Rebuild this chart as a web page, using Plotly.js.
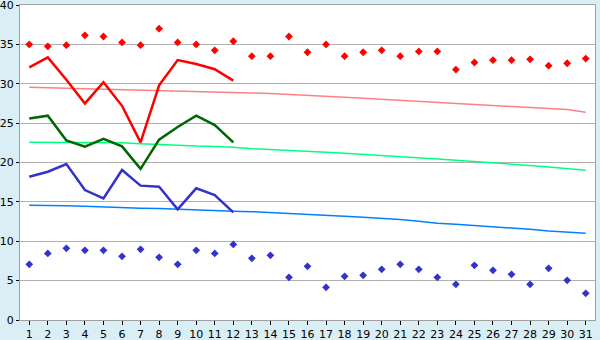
<!DOCTYPE html>
<html>
<head>
<meta charset="utf-8">
<script src="https://cdn.plot.ly/plotly-3.0.1.min.js"></script>
<style>html,body{margin:0;padding:0;background:#DAEFF5;}#chart{width:600px;height:340px;}</style>
</head>
<body>
<div id="chart"></div>
<script>
const days = Array.from({length: 31}, (_, i) => i + 1);
const tickLabels = days.map(String);
const yTicks = [0, 5, 10, 15, 20, 25, 30, 35, 40];

const maxPoints = [35.0, 34.75, 34.9, 36.15, 36.0, 35.25, 34.9, 37.0, 35.25, 35.0,
  34.25, 35.4, 33.5, 33.5, 36.0, 34.0, 35.0, 33.5, 34.0, 34.25,
  33.5, 34.1, 34.1, 31.8, 32.7, 33.0, 33.0, 33.1, 32.3, 32.6, 33.2];
const minPoints = [7.07, 8.46, 9.1, 8.85, 8.85, 8.08, 8.97, 7.96, 7.07, 8.85,
  8.46, 9.6, 7.83, 8.21, 5.42, 6.82, 4.15, 5.55, 5.67, 6.44,
  7.07, 6.44, 5.42, 4.53, 6.94, 6.31, 5.8, 4.53, 6.56, 5.04, 3.39];

const redLine = [32.08, 33.35, 30.5, 27.5, 30.2, 27.2, 22.55, 29.8, 33.0, 32.5, 31.85, 30.4];
const greenLine = [25.6, 25.95, 22.8, 22.0, 23.0, 22.05, 19.2, 22.9, 24.5, 25.95, 24.75, 22.55];
const blueLine = [18.2, 18.83, 19.8, 16.5, 15.45, 19.05, 17.06, 16.93, 14.05, 16.72, 15.87, 13.67];

const redTrend = [29.55, 29.45, 29.42, 29.35, 29.3, 29.25, 29.2, 29.17, 29.12, 29.07,
  28.98, 28.88, 28.83, 28.76, 28.66, 28.53, 28.4, 28.28, 28.15, 28.02,
  27.92, 27.81, 27.68, 27.56, 27.43, 27.3, 27.17, 27.02, 26.9, 26.72, 26.37];
const greenTrend = [22.56, 22.56, 22.56, 22.56, 22.54, 22.5, 22.38, 22.26, 22.18, 22.08,
  22.04, 21.95, 21.75, 21.66, 21.55, 21.42, 21.3, 21.17, 21.04, 20.91,
  20.79, 20.64, 20.45, 20.28, 20.13, 19.93, 19.77, 19.62, 19.42, 19.24, 19.01];
const blueTrend = [14.56, 14.56, 14.52, 14.44, 14.34, 14.28, 14.2, 14.16, 14.06, 13.96,
  13.9, 13.82, 13.76, 13.66, 13.55, 13.42, 13.3, 13.17, 13.04, 12.91,
  12.77, 12.55, 12.3, 12.15, 12.01, 11.82, 11.72, 11.52, 11.3, 11.14, 11.01];

const lineDays = days.slice(0, redLine.length);

const traces = [
  {x: days, y: redTrend, mode: 'lines', line: {color: '#FF8080', width: 1.5}},
  {x: days, y: greenTrend, mode: 'lines', line: {color: '#00FF80', width: 1.5}},
  {x: days, y: blueTrend, mode: 'lines', line: {color: '#0080FF', width: 1.5}},
  {x: lineDays, y: redLine, mode: 'lines', line: {color: '#FF0000', width: 2.5}},
  {x: lineDays, y: greenLine, mode: 'lines', line: {color: '#006600', width: 2.5}},
  {x: lineDays, y: blueLine, mode: 'lines', line: {color: '#3333CC', width: 2.5}},
  {x: days, y: maxPoints, mode: 'markers', marker: {symbol: 'diamond', size: 6, color: '#FF0000'}},
  {x: days, y: minPoints, mode: 'markers', marker: {symbol: 'diamond', size: 6, color: '#3333CC'}}
];

const layout = {
  width: 600, height: 340,
  margin: {l: 20, r: 5, t: 5, b: 20, pad: 0},
  paper_bgcolor: '#DAEFF5',
  plot_bgcolor: '#FFFFFF',
  showlegend: false,
  font: {family: 'DejaVu Sans, Verdana, sans-serif', size: 11, color: '#000000'},
  xaxis: {
    range: [0.5, 31.5], tickmode: 'array', tickvals: days, ticktext: tickLabels,
    showgrid: false, zeroline: false, showline: true, linecolor: '#A0A0A0', linewidth: 1, mirror: true,
    ticks: 'outside', ticklen: 4, tickcolor: '#000000', tickfont: {size: 11},
    ticklabeloverflow: 'allow'
  },
  yaxis: {
    range: [0, 40], tickmode: 'array', tickvals: yTicks, ticktext: yTicks.map(String),
    showgrid: true, gridcolor: '#B0B0B0', gridwidth: 1, zeroline: false,
    showline: true, linecolor: '#A0A0A0', linewidth: 1, mirror: true,
    ticks: 'outside', ticklen: 3, tickcolor: '#000000', tickfont: {size: 11},
    ticklabeloverflow: 'allow'
  }
};

Plotly.newPlot('chart', traces, layout, {staticPlot: true, displayModeBar: false});
</script>
</body>
</html>
